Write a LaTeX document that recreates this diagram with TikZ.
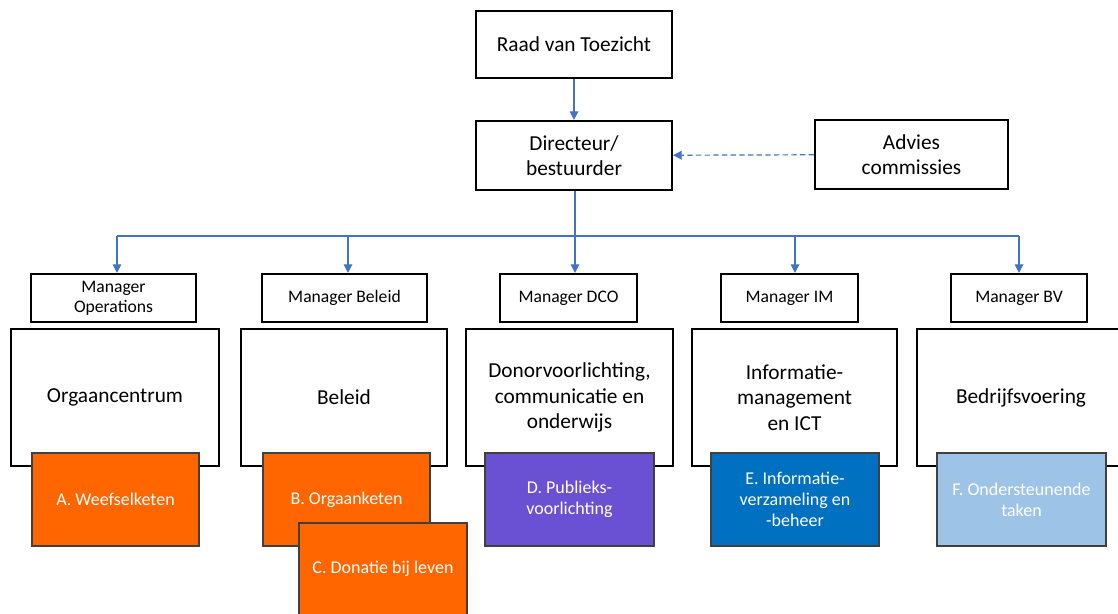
\documentclass[tikz,border=0pt]{standalone}
\usepackage{fontspec}
\setmainfont{Carlito}
\usetikzlibrary{arrows.meta}
\definecolor{conn}{HTML}{4472C4}
\definecolor{orangeU}{HTML}{FF6600}
\definecolor{purpleU}{HTML}{6A50D3}
\definecolor{blueU}{HTML}{0070C0}
\definecolor{lightU}{HTML}{9DC3E6}
\begin{document}
\begin{tikzpicture}[x=0.75pt,y=-0.75pt,
  sz/.style 2 args={minimum width=#1*0.75pt,minimum height=#2*0.75pt},
  blk/.style={draw=black,line width=1.6pt,fill=white,inner sep=2pt,align=center,font=\fontsize{16}{19}\selectfont},
  mgr/.style={draw=black,line width=1.6pt,fill=white,inner sep=2pt,align=center,font=\fontsize{13.2}{15}\selectfont},
  unitbox/.style={draw=black!75,line width=0.8pt,text=white,align=center,inner sep=2pt,font=\fontsize{13.5}{16}\selectfont},
  link/.style={draw=conn,line width=0.9pt,-{Triangle[width=6.5pt,length=6.5pt]}},
  plain/.style={draw=conn,line width=0.9pt},
]
\useasboundingbox (0,0) rectangle (1118,614);
\clip (0,0) rectangle (1118,614);
% top
\node[blk,sz={196}{67}] (raad) at (574,44.5) {Raad van Toezicht};
\node[blk,sz={196}{69}] (dir) at (574,155.5) {Directeur/\\bestuurder};
\node[blk,sz={193}{69}] (adv) at (911.5,154.5) {Advies\\commissies};
\draw[link] (raad) -- (dir);
\draw[link,dashed,dash pattern=on 4pt off 2.5pt] (adv) -- (dir);
% managers
\node[mgr,sz={165}{48}] (m1) at (113.5,298) {Manager\\Operations};
\node[mgr,sz={165}{48}] (m2) at (344.5,298) {Manager Beleid};
\node[mgr,sz={137}{48}] (m3) at (568.5,298) {Manager DCO};
\node[mgr,sz={137}{48}] (m4) at (789.5,298) {Manager IM};
\node[mgr,sz={136}{48}] (m5) at (1019,298) {Manager BV};
% bus
\coordinate (b0) at (575,236);
\coordinate (b1) at (117,236);
\coordinate (b2) at (348,236);
\coordinate (b4) at (795,236);
\coordinate (b5) at (1019,236);
\draw[plain] (dir.south -| b0) -- (b0);
\draw[plain] (b1) -- (b5);
\draw[link] (b1) -- (b1 |- m1.north);
\draw[link] (b2) -- (b2 |- m2.north);
\draw[link] (b0) -- (b0 |- m3.north);
\draw[link] (b4) -- (b4 |- m4.north);
\draw[link] (b5) -- (b5 |- m5.north);
% departments
\node[blk,sz={208}{137}] (d1) at (115,397.5) {Orgaancentrum};
\node[blk,sz={206}{137}] (d2) at (344,397.5) {Beleid};
\node[blk,sz={207}{137}] (d3) at (569.5,397.5) {Donorvoorlichting,\\communicatie en\\onderwijs};
\node[blk,sz={205}{137}] (d4) at (794.5,397.5) {Informatie-\\management\\en ICT};
\node[blk,sz={208}{137}] (d5) at (1021,397.5) {Bedrijfsvoering};
% units
\node[unitbox,fill=orangeU,sz={167}{93}] (ua) at (115.5,499.5) {A. Weefselketen};
\node[unitbox,fill=orangeU,sz={167}{93}] (ub) at (346.5,499.5) {B. Orgaanketen};
\node[unitbox,fill=orangeU,sz={168}{92}] (uc) at (383,569) {C. Donatie bij leven};
\node[unitbox,fill=purpleU,sz={169}{93}] (ud) at (569.5,499.5) {D. Publieks-\\voorlichting};
\node[unitbox,fill=blueU,sz={168}{93}] (ue) at (795,499.5) {E. Informatie-\\verzameling en\\-beheer};
\node[unitbox,fill=lightU,sz={169}{93}] (uf) at (1021.5,499.5) {F. Ondersteunende\\taken};
\end{tikzpicture}
\end{document}
